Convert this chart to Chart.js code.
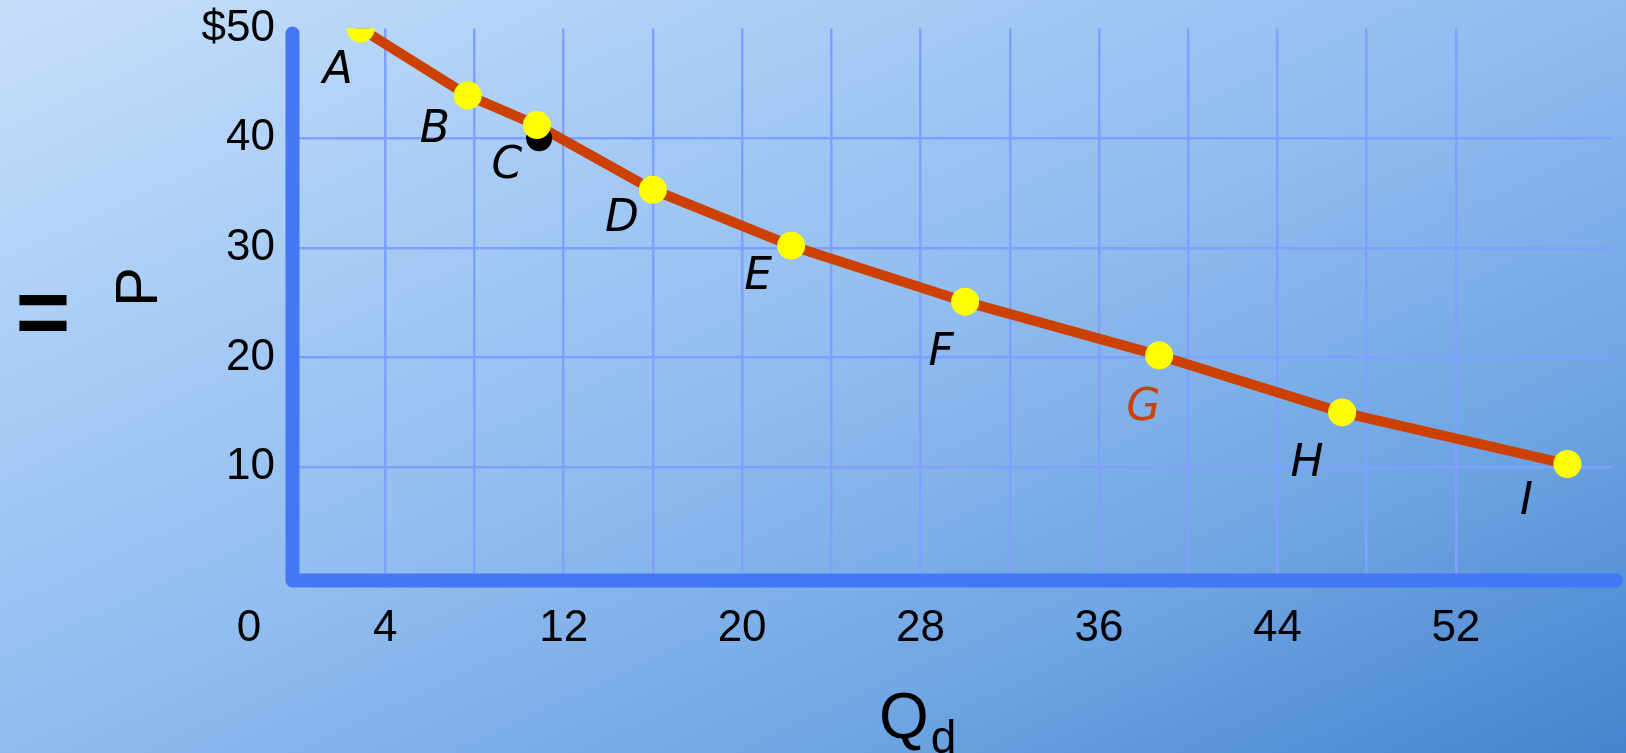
<!DOCTYPE html>
<html><head><meta charset="utf-8">
<script src="https://cdn.jsdelivr.net/npm/chart.js@4.4.1/dist/chart.umd.min.js"></script>
<style>
html,body{margin:0;padding:0;width:1626px;height:753px;overflow:hidden;
background:linear-gradient(to bottom right,#c8dffa 0%,#a9cdf5 25%,#90bcef 50%,#6fa5e3 75%,#4583cc 100%);}
canvas{display:block}
</style></head><body>
<canvas id="c" width="1626" height="753"></canvas>
<script>
// ---- data ----
const pointNames = ['A','B','C','D','E','F','G','H','I'];
const quantity   = [2.9, 7.7, 10.8, 16.0, 22.2, 30.0, 38.7, 46.9, 57.0];
const price      = [50.0, 43.9, 41.2, 35.3, 30.2, 25.1, 20.2, 15.0, 10.3];
const markedQuantity = [10.9];
const markedPrice    = [40.0];
const xTickLabels = [4, 12, 20, 28, 36, 44, 52];
const yTickLabels = {10:'10', 20:'20', 30:'30', 40:'40', 50:'$50'};
const originLabel = '0';
const xTitle = 'Q';
const xTitleSub = 'd';
const yTitle = 'P';

// label placement (pixels relative to each point)
const labelOffsets = [[-23,43],[-33,35],[-30,42],[-31,30],[-33,32],[-24,52],[-16,53],[-35,52],[-41,39]];
const labelColors = ['#000','#000','#000','#000','#000','#000','#cc4000','#000','#000'];

const curve = quantity.map((q,i)=>({x:q, y:price[i]}));
const marked = markedQuantity.map((q,i)=>({x:q, y:markedPrice[i]}));

const FONT = '"Liberation Sans", Arial, sans-serif';
const GRID = 'rgba(128,160,255,1)';
const AXIS = '#4477f6';

const decor = {
  id: 'decor',
  beforeDatasetsDraw(chart){
    const {ctx, chartArea:a} = chart;
    ctx.save();
    ctx.strokeStyle = AXIS; ctx.lineWidth = 14; ctx.lineCap = 'round'; ctx.lineJoin = 'round';
    ctx.beginPath();
    ctx.moveTo(a.left-3.5, a.top+5);
    ctx.lineTo(a.left-3.5, a.bottom+3.5);
    ctx.lineTo(a.right+4, a.bottom+3.5);
    ctx.stroke();
    ctx.restore();
  },
  afterDatasetsDraw(chart){
    const {ctx} = chart;
    const pts = chart.getDatasetMeta(2).data;
    ctx.save();
    ctx.font = 'italic 44px "DejaVu Sans", sans-serif';
    ctx.textAlign = 'center'; ctx.textBaseline = 'middle';
    pts.forEach((p,i)=>{
      ctx.fillStyle = labelColors[i];
      ctx.fillText(pointNames[i], p.x + labelOffsets[i][0], p.y + labelOffsets[i][1]);
    });
    ctx.restore();
  },
  afterDraw(chart){
    const {ctx, chartArea:a} = chart;
    ctx.save();
    ctx.fillStyle = '#000';
    // origin label
    ctx.font = '44px ' + FONT;
    ctx.textAlign = 'center'; ctx.textBaseline = 'middle';
    ctx.fillText(originLabel, a.left - 47, a.bottom + 25 + 26.4);
    // x title
    ctx.textAlign = 'left'; ctx.textBaseline = 'alphabetic';
    ctx.font = '64px ' + FONT;
    ctx.fillText(xTitle, 879, 738);
    const qw = ctx.measureText(xTitle).width;
    ctx.font = '46px ' + FONT;
    ctx.fillText(xTitleSub, 879 + qw + 2, 753);
    // y title
    ctx.save();
    ctx.translate(140, 287);
    ctx.rotate(-Math.PI/2);
    ctx.font = '60px ' + FONT;
    ctx.textAlign = 'center'; ctx.textBaseline = 'middle';
    ctx.fillText(yTitle, 0, 0);
    ctx.restore();
    // equals sign
    ctx.font = 'bold 94px ' + FONT;
    ctx.textAlign = 'center'; ctx.textBaseline = 'middle';
    ctx.fillText('=', 43, 318);
    ctx.restore();
  }
};

new Chart(document.getElementById('c'), {
  type: 'scatter',
  data: {
    datasets: [
      { data: curve, showLine: true, borderColor: '#cc4000', borderWidth: 10,
        pointRadius: 0, borderJoinStyle: 'round', borderCapStyle: 'round', order: 3 },
      { data: marked, showLine: false, pointRadius: 13, pointBackgroundColor: '#000',
        pointBorderWidth: 0, order: 2 },
      { data: curve, showLine: false, pointRadius: 14, pointBackgroundColor: '#ffff00',
        pointBorderWidth: 0, order: 1 }
    ]
  },
  options: {
    responsive: false,
    animation: false,
    layout: { padding: { top: 28.5, right: 0, left: 0, bottom: 0 } },
    plugins: { legend: {display:false}, tooltip: {enabled:false} },
    scales: {
      x: {
        type: 'linear', min: 0, max: 59.0,
        afterFit: s => { s.height = 753 - 577; s.paddingLeft = 0; s.paddingRight = 0; },
        afterBuildTicks: s => { s.ticks = s.ticks.filter(t => t.value % 4 === 0); },
        border: { display: false },
        grid: { drawTicks: false, lineWidth: 2.5,
                color: c => (c.tick && c.tick.value > 0) ? GRID : 'rgba(0,0,0,0)' },
        ticks: { stepSize: 4, padding: 25, color: '#000', maxRotation: 0, autoSkip: false,
                 font: { family: FONT, size: 44 },
                 callback: v => xTickLabels.includes(v) ? String(v) : '' }
      },
      y: {
        type: 'linear', min: 0, max: 50,
        afterFit: s => { s.width = 296; s.paddingTop = 0; s.paddingBottom = 0; },
        border: { display: false },
        grid: { drawTicks: false, lineWidth: 2.5,
                color: c => (c.tick && c.tick.value > 0 && c.tick.value < 50) ? GRID : 'rgba(0,0,0,0)' },
        ticks: { stepSize: 10, padding: 21, color: '#000',
                 font: { family: FONT, size: 44 },
                 callback: v => yTickLabels[v] || '' }
      }
    }
  },
  plugins: [decor]
});
</script>
</body></html>
